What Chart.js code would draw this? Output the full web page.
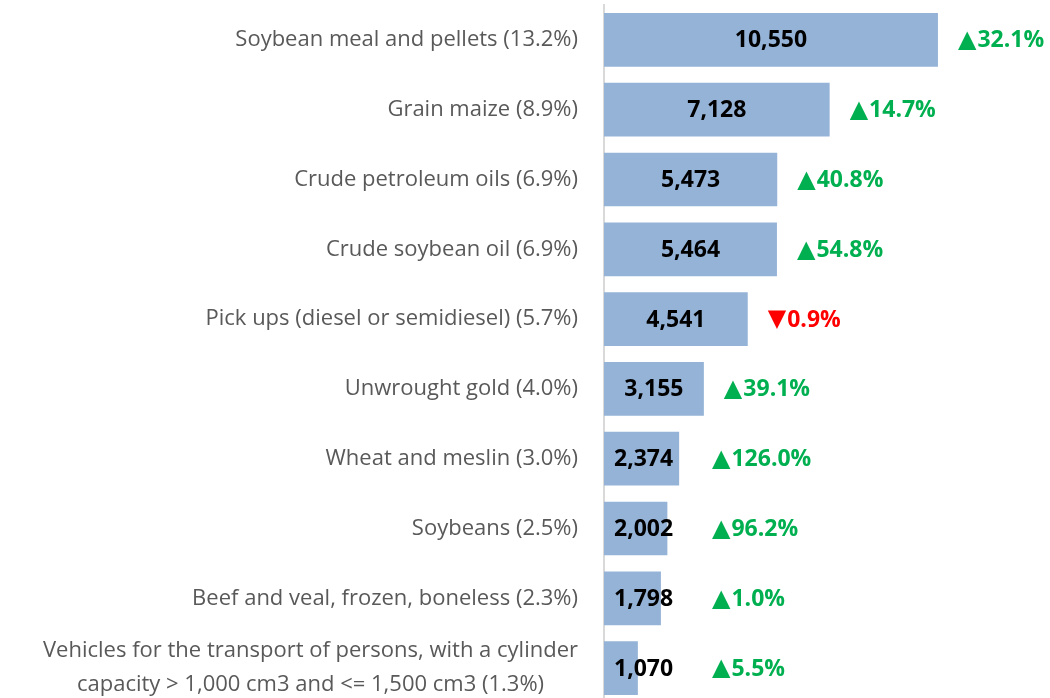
<!DOCTYPE html>
<html>
<head>
<meta charset="utf-8">
<script src="https://cdn.jsdelivr.net/npm/chart.js@4/dist/chart.umd.min.js"></script>
<style>
  html, body { margin: 0; padding: 0; background: #fff; overflow: hidden; }
  #wrap { position: relative; width: 1050px; height: 704px; }
</style>
</head>
<body>
<div id="wrap"><canvas id="myChart"></canvas></div>
<script>
// categories with share in brackets
const categories = [
    "Soybean meal and pellets (13.2%)",
    "Grain maize (8.9%)",
    "Crude petroleum oils (6.9%)",
    "Crude soybean oil (6.9%)",
    "Pick ups (diesel or semidiesel) (5.7%)",
    "Unwrought gold (4.0%)",
    "Wheat and meslin (3.0%)",
    "Soybeans (2.5%)",
    "Beef and veal, frozen, boneless (2.3%)",
    ["Vehicles for the transport of persons, with a cylinder", "capacity > 1,000 cm3 and <= 1,500 cm3 (1.3%)"],
];

const values = [10550, 7128, 5473, 5464, 4541, 3155, 2374, 2002, 1798, 1070];

// year on year change, %
const changes = [32.1, 14.7, 40.8, 54.8, -0.9, 39.1, 126.0, 96.2, 1.0, 5.5];

const FONT = "'Open Sans', sans-serif";

//category labels: right aligned block, lines centred inside it (like excel)
const categoryPlugin = {
    id: "catLabels",
    afterDraw(chart) {
        const ctx = chart.ctx;
        const scale = chart.scales.y;
        const right = scale.right - 26;
        ctx.save();
        ctx.font = "22px " + FONT;
        ctx.fillStyle = "#595959";
        ctx.textAlign = "center";
        ctx.textBaseline = "middle";
        categories.forEach((lab, i) => {
            const lines = Array.isArray(lab) ? lab : [lab];
            const w = Math.max(...lines.map((l) => ctx.measureText(l).width));
            const cx = right - w / 2;
            const y0 = scale.getPixelForTick(i) - ((lines.length - 1) * 34) / 2;
            lines.forEach((l, j) => ctx.fillText(l, cx, y0 + j * 34));
        });
        ctx.restore();
    },
};

//labels on bars + change labels
const labelPlugin = {
    id: "barLabels",
    afterDatasetsDraw(chart) {
        const ctx = chart.ctx;
        const meta = chart.getDatasetMeta(0);
        ctx.save();
        ctx.textBaseline = "middle";
        meta.data.forEach((bar, i) => {
            const txt = values[i].toLocaleString("en-US");
            ctx.font = "bold 23px " + FONT;
            ctx.fillStyle = "#000000";
            ctx.textAlign = "center";
            const w = ctx.measureText(txt).width;
            const cx = Math.max((bar.x + bar.base) / 2, bar.base + 10 + w / 2);
            ctx.fillText(txt, cx, bar.y + 1);

            const up = changes[i] >= 0;
            ctx.fillStyle = up ? "#00B050" : "#FF0000";
            ctx.textAlign = "left";
            let px = Math.max(bar.x + 20, bar.base + 108);
            ctx.font = "24px 'DejaVu Sans'";
            const tri = up ? "\u25B2" : "\u25BC";
            ctx.fillText(tri, px, bar.y + 1);
            px += ctx.measureText(tri).width + 1;
            ctx.font = "bold 23px " + FONT;
            ctx.fillText(Math.abs(changes[i]).toFixed(1) + "%", px, bar.y + 1);
        });
        ctx.restore();
    },
};

const data = {
    labels: categories,
    datasets: [
        {
            label: "Exports",
            backgroundColor: "#95B3D7",
            borderWidth: 0,
            data: values,
            barPercentage: 0.77,
            categoryPercentage: 1,
        },
    ],
};

const config = {
    type: "bar",
    data: data,
    options: {
        indexAxis: "y",
        responsive: true,
        maintainAspectRatio: false,
        animation: false,
        layout: { padding: { top: 5, bottom: 1, left: 0, right: 0 } },
        plugins: {
            legend: { display: false },
            tooltip: { enabled: false },
        },
        scales: {
            x: {
                display: false,
                min: 0,
                max: 14090,
            },
            y: {
                afterFit(scale) {
                    scale.width = 604;
                    scale.paddingTop = 0;
                    scale.paddingBottom = 0;
                },
                grid: { display: false, drawTicks: false },
                border: { display: true, color: "#D9D9D9", width: 2 },
                ticks: { display: false },
            },
        },
    },
    plugins: [labelPlugin, categoryPlugin],
};
const myChart = new Chart(document.getElementById("myChart"), config);
</script>
</body>
</html>
